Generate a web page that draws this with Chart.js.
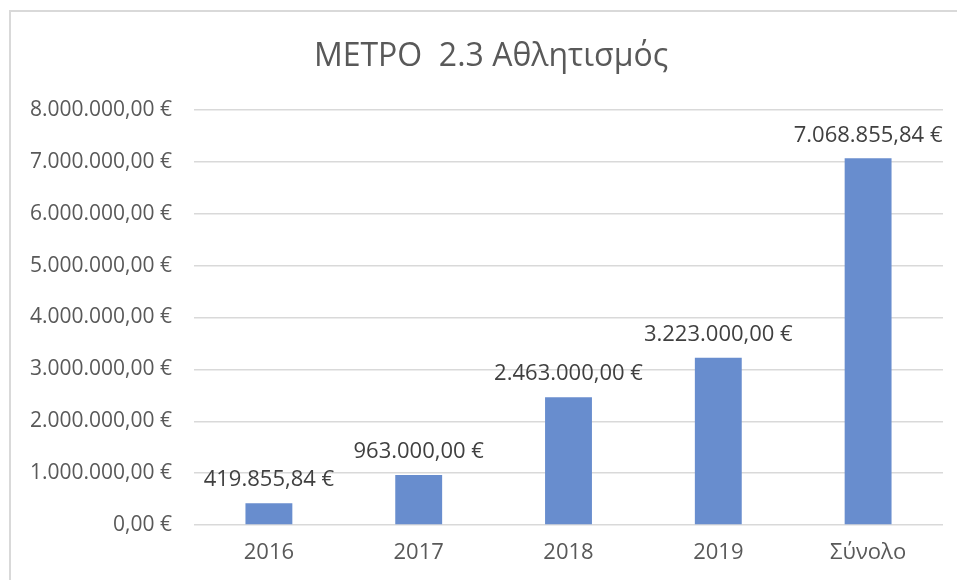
<!DOCTYPE html>
<html>
<head>
<meta charset="utf-8">
<script src="https://cdn.jsdelivr.net/npm/chart.js@4/dist/chart.umd.min.js"></script>
<style>
  html, body { margin: 0; padding: 0; background: #fff; overflow: hidden; }
  #wrap { position: relative; width: 957px; height: 580px; }
  #frame { position: absolute; left: 9px; top: 10px; width: 980px; height: 600px; border: 2px solid #d9d9d9; box-sizing: border-box; }
  canvas { position: absolute; left: 0; top: 0; }
</style>
</head>
<body>
<div id="wrap">
  <div id="frame"></div>
  <canvas id="c" width="957" height="580"></canvas>
</div>
<script>
const titleText = "ΜΕΤΡΟ  2.3 Αθλητισμός";
const categories = ["2016", "2017", "2018", "2019", "Σύνολο"];
const values = [419855.84, 963000, 2463000, 3223000, 7068855.84];
const tickValues = [0, 1000000, 2000000, 3000000, 4000000, 5000000, 6000000, 7000000, 8000000];

const FONT = "'Open Sans', 'DejaVu Sans', sans-serif";

function fmt(v) {
  const fixed = v.toFixed(2);
  let [intPart, dec] = fixed.split(".");
  intPart = intPart.replace(/\B(?=(\d{3})+(?!\d))/g, ".");
  return intPart + "," + dec + " €";
}

const titlePlugin = {
  id: 'customTitle',
  afterDraw(chart) {
    const ctx = chart.ctx;
    ctx.save();
    ctx.font = "32px " + FONT;
    ctx.fillStyle = "#595959";
    ctx.textAlign = "center";
    ctx.textBaseline = "middle";
    ctx.fillText(titleText, 491, 57);
    ctx.restore();
  }
};

const labelPlugin = {
  id: 'valueLabels',
  afterDatasetsDraw(chart) {
    const ctx = chart.ctx;
    const meta = chart.getDatasetMeta(0);
    ctx.save();
    ctx.font = "22px " + FONT;
    ctx.fillStyle = "#404040";
    ctx.textAlign = "center";
    ctx.textBaseline = "middle";
    meta.data.forEach((bar, i) => {
      ctx.fillText(fmt(values[i]), bar.x, bar.y - 23);
    });
    ctx.restore();
  }
};

new Chart(document.getElementById('c'), {
  type: 'bar',
  data: {
    labels: categories,
    datasets: [{
      data: values,
      backgroundColor: '#688dce',
      borderWidth: 0,
      categoryPercentage: 1.0,
      barPercentage: 0.313
    }]
  },
  options: {
    responsive: false,
    animation: false,
    devicePixelRatio: 1,
    layout: { padding: { left: 10, right: 14, top: 110, bottom: 0 } },
    plugins: {
      legend: { display: false },
      title: { display: false },
      tooltip: { enabled: false }
    },
    scales: {
      x: {
        grid: { display: false, drawTicks: false },
        border: { display: false },
        ticks: { color: '#595959', font: { size: 22, family: FONT }, padding: 15, maxRotation: 0 },
        afterFit(scale) { scale.height = 55; }
      },
      y: {
        min: 0,
        max: 8000000,
        afterBuildTicks(scale) { scale.ticks = tickValues.map(v => ({ value: v })); },
        grid: { color: '#d9d9d9', lineWidth: 1.5, drawTicks: false },
        border: { display: false },
        ticks: {
          color: '#595959',
          font: { size: 21, family: FONT },
          padding: 22,
          callback: (v) => fmt(v)
        },
        afterFit(scale) { scale.width = 184; }
      }
    }
  },
  plugins: [titlePlugin, labelPlugin]
});
</script>
</body>
</html>
